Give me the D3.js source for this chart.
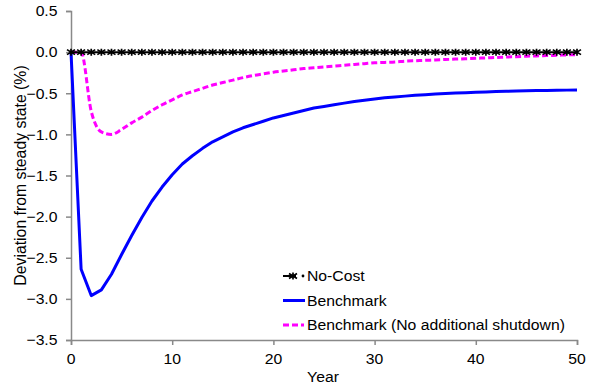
<!DOCTYPE html>
<html>
<head>
<meta charset="utf-8">
<script src="https://cdn.jsdelivr.net/npm/d3@7"></script>
<style>
  html, body { margin: 0; padding: 0; background: #fff; }
  svg { display: block; font-family: "Liberation Sans", Arial, sans-serif; }
</style>
</head>
<body>
<svg id="chart" width="596" height="389"></svg>
<script>
// Years after the shock
const years = d3.range(0, 51);

// Deviation from steady state (%) by year
const noCost = years.map(() => 0);
const benchmark = [
  0, -2.64, -2.96, -2.89, -2.70, -2.46, -2.23, -2.01, -1.81, -1.64,
  -1.49, -1.36, -1.26, -1.17, -1.09, -1.03, -0.97, -0.92, -0.88, -0.84,
  -0.80, -0.77, -0.74, -0.71, -0.68, -0.66, -0.64, -0.62, -0.60, -0.585,
  -0.57, -0.555, -0.545, -0.535, -0.525, -0.518, -0.51, -0.504, -0.498, -0.493,
  -0.488, -0.484, -0.48, -0.477, -0.474, -0.471, -0.468, -0.466, -0.464, -0.462,
  -0.46
];
const benchmarkNoShutdown = [
  0, 0, -0.72, -0.97, -1.00, -0.94, -0.86, -0.79, -0.71, -0.64,
  -0.58, -0.52, -0.48, -0.44, -0.40, -0.37, -0.34, -0.31, -0.285, -0.265,
  -0.245, -0.23, -0.215, -0.20, -0.19, -0.18, -0.17, -0.16, -0.15, -0.14,
  -0.13, -0.125, -0.12, -0.11, -0.105, -0.10, -0.095, -0.09, -0.085, -0.08,
  -0.075, -0.07, -0.065, -0.06, -0.055, -0.05, -0.046, -0.042, -0.038, -0.034,
  -0.03
];

const seriesNames = ["No-Cost", "Benchmark", "Benchmark (No additional shutdown)"];
const xTicks = [0, 10, 20, 30, 40, 50];
const yTicks = [0.5, 0.0, -0.5, -1.0, -1.5, -2.0, -2.5, -3.0, -3.5];
const xTitle = "Year";
const yTitle = "Deviation from steady state (%)";

const svg = d3.select("#chart");
const axisColor = "#898989";
const fontSize = 15;
const stretch = 1.05;

const x = d3.scaleLinear().domain([0, 50]).range([71, 577]);
const y = d3.scaleLinear().domain([-3.5, 0.5]).range([340, 11]);

// Slightly widened label text
function label(g, px, py, str, anchor) {
  return g.append("text")
    .attr("transform", `translate(${px},${py}) scale(${stretch},1)`)
    .attr("text-anchor", anchor || "start")
    .attr("font-size", fontSize)
    .attr("fill", "#000")
    .text(str);
}

// Y axis (line and ticks from d3, labels placed with the stretch)
const yAxis = svg.append("g").attr("transform", `translate(${x(0)},0)`)
  .call(d3.axisLeft(y).tickValues(yTicks).tickFormat("").tickSize(5));
yAxis.select(".domain").attr("stroke", axisColor).attr("stroke-width", 1.5);
yAxis.selectAll(".tick line").attr("stroke", axisColor).attr("stroke-width", 1.5);
yTicks.forEach(v => label(svg, 57.5, y(v) + 5.3, d3.format(".1f")(v), "end"));

// X axis
const xAxis = svg.append("g").attr("transform", `translate(0,${y(-3.5)})`)
  .call(d3.axisBottom(x).tickValues(xTicks).tickFormat("").tickSize(5));
xAxis.select(".domain").attr("stroke", axisColor).attr("stroke-width", 1.5);
xAxis.selectAll(".tick line").attr("stroke", axisColor).attr("stroke-width", 1.5);
xTicks.forEach(v => label(svg, x(v), 363.5, d3.format("d")(v), "middle"));

// Axis titles
label(svg, 323, 381.5, xTitle, "middle");
svg.append("text")
  .attr("transform", `translate(26,${(y(0.5) + y(-3.5)) / 2}) rotate(-90)`)
  .attr("text-anchor", "middle").attr("font-size", 15.8).text(yTitle);

// Series lines
const linear = d3.line().x((d, i) => x(years[i])).y(d => y(d));
const smooth = d3.line().x((d, i) => x(years[i])).y(d => y(d)).curve(d3.curveMonotoneX);

const starPath = "M0,-3.5L0,3.5M-4,-2.5L4,2.5M-4,2.5L4,-2.5";

svg.append("path").attr("d", linear(benchmark))
  .attr("fill", "none").attr("stroke", "#0000ff").attr("stroke-width", 3)
  .attr("stroke-linejoin", "round");

svg.append("path").attr("d", smooth(benchmarkNoShutdown))
  .attr("fill", "none").attr("stroke", "#ff00ff").attr("stroke-width", 3)
  .attr("stroke-dasharray", "6,3");

svg.append("path").attr("d", linear(noCost))
  .attr("fill", "none").attr("stroke", "#000").attr("stroke-width", 2);
svg.append("g").selectAll("path").data(noCost).join("path")
  .attr("transform", (d, i) => `translate(${x(years[i])},${y(d)})`)
  .attr("d", starPath).attr("stroke", "#000").attr("stroke-width", 1.7).attr("fill", "none");

// Legend
const legend = svg.append("g");
const lx0 = 283, tx = 307;
const ly = [276, 300.5, 325];

legend.append("line").attr("x1", lx0).attr("x2", 296).attr("y1", ly[0]).attr("y2", ly[0])
  .attr("stroke", "#000").attr("stroke-width", 2);
legend.append("path").attr("transform", `translate(293,${ly[0]})`).attr("d", starPath)
  .attr("stroke", "#000").attr("stroke-width", 1.7).attr("fill", "none");
legend.append("circle").attr("cx", 303).attr("cy", ly[0]).attr("r", 1.4).attr("fill", "#000");
label(legend, tx, ly[0] + 5.3, seriesNames[0]);

legend.append("line").attr("x1", lx0).attr("x2", 305).attr("y1", ly[1]).attr("y2", ly[1])
  .attr("stroke", "#0000ff").attr("stroke-width", 3);
label(legend, tx, ly[1] + 5.3, seriesNames[1]);

legend.append("line").attr("x1", lx0).attr("x2", 304).attr("y1", ly[2]).attr("y2", ly[2])
  .attr("stroke", "#ff00ff").attr("stroke-width", 3).attr("stroke-dasharray", "6,3");
label(legend, tx, ly[2] + 5.3, seriesNames[2]);
</script>
</body>
</html>
